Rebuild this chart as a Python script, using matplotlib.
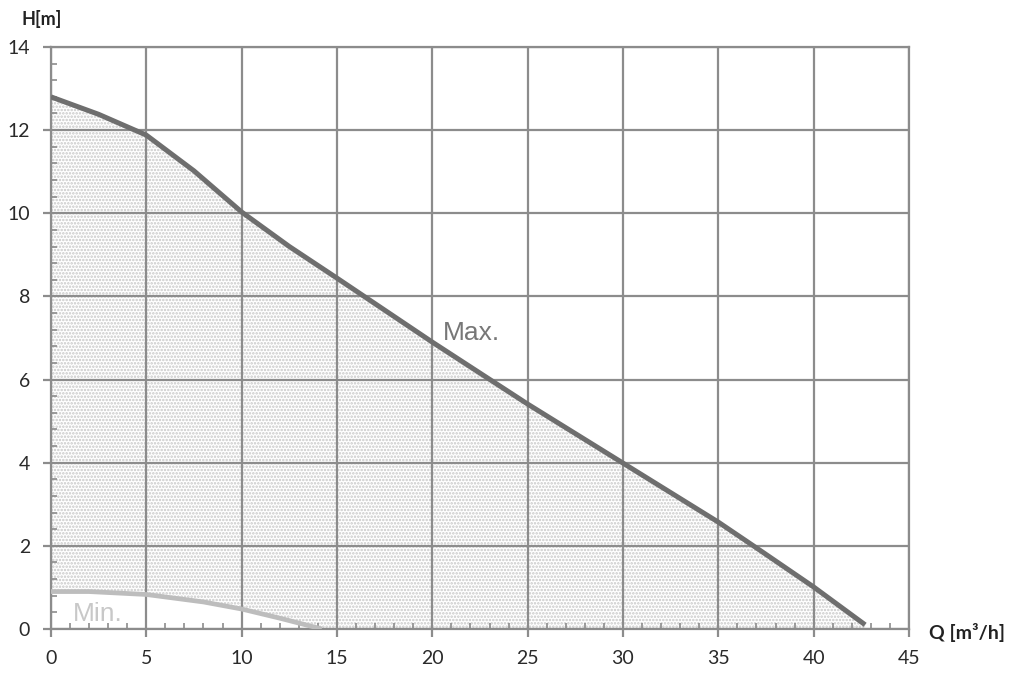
import numpy as np
import matplotlib.pyplot as plt
from matplotlib.ticker import MultipleLocator

# Pump curve data
q_max = [0, 2.5, 5, 7.5, 10, 12.5, 15, 20, 25, 30, 35, 37, 40, 42.7]
h_max = [12.8, 12.38, 11.88, 11.02, 10.03, 9.2, 8.44, 6.9, 5.41, 3.99, 2.57, 1.95, 1.01, 0.1]
q_min = [0, 2, 5, 8, 10, 12, 14.2]
h_min = [0.9, 0.9, 0.83, 0.65, 0.48, 0.26, 0.0]

grid_col = "#8c8c8c"

plt.rcParams['font.family'] = ['Lato', 'DejaVu Sans']
plt.rcParams['hatch.linewidth'] = 1.2
plt.rcParams['hatch.color'] = '#c8c8c8'

fig = plt.figure(figsize=(10.09, 6.74), dpi=100)
ax = fig.add_axes([0.0505, 0.0668, 0.8504, 0.8635])

# shaded working area between the min and max curves
q_all = np.union1d(q_max, q_min)
upper = np.interp(q_all, q_max, h_max)
lower = np.interp(q_all, q_min, h_min, right=0)
ax.fill_between(q_all, upper, lower, facecolor='white', hatch='.....',
                edgecolor='#c8c8c8', linewidth=0, zorder=1)
ax.plot(q_max, h_max, color='#6e6e6e', lw=3.6, solid_capstyle='butt',
        solid_joinstyle='round', zorder=4)
ax.plot(q_min, h_min, color='#bdbdbd', lw=3.4, solid_capstyle='butt',
        solid_joinstyle='round', zorder=4)

ax.text(20.55, 6.95, "Max.", fontsize=19, color='#777777', family=['Liberation Sans'], zorder=5)
ax.text(1.15, 0.19, "Min.", fontsize=19, color='#c8c8c8', family=['Liberation Sans'], zorder=5)

ax.set_xlim(0, 45)
ax.set_ylim(0, 14)
ax.xaxis.set_major_locator(MultipleLocator(5))
ax.xaxis.set_minor_locator(MultipleLocator(1))
ax.yaxis.set_major_locator(MultipleLocator(2))
ax.yaxis.set_minor_locator(MultipleLocator(0.4))

ax.grid(True, which='major', color=grid_col, lw=1.6, zorder=2)
ax.set_axisbelow(False)
for s in ax.spines.values():
    s.set_color(grid_col)
    s.set_linewidth(1.6)
    s.set_zorder(3)

ax.tick_params(which='major', direction='out', length=6, width=1.6, color=grid_col,
               labelsize=14, labelcolor='#2a2a2a')
ax.tick_params(axis='x', which='major', pad=9)
ax.tick_params(axis='y', which='major', pad=9)
ax.tick_params(which='minor', direction='in', length=4, width=1.2, color=grid_col)

fig.text(0.021, 0.972, "H[m]", fontsize=13, fontweight='bold', color='#222222', va='center')
fig.text(0.921, 0.061, "Q [m³/h]", fontsize=14, fontweight='bold', color='#222222', va='center')

fig.savefig("out.png", dpi=100)
